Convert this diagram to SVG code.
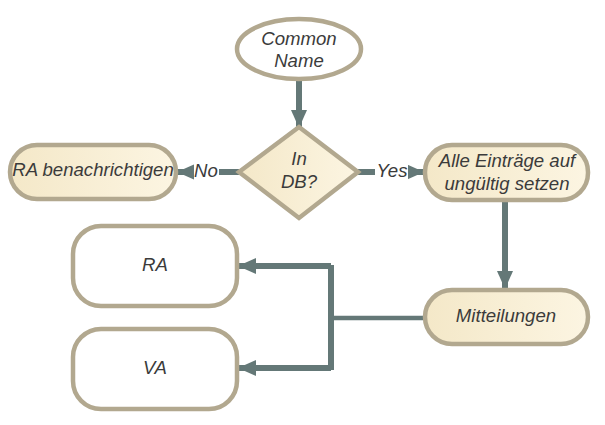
<svg xmlns="http://www.w3.org/2000/svg" width="605" height="425" viewBox="0 0 605 425">
<style>
.n{stroke:#b2a88f;stroke-width:4.5}
.f{fill:url(#g)}
.w{fill:#ffffff}
.t{font-family:"Liberation Sans",Arial,sans-serif;font-style:italic;font-size:18.6px;fill:#3b3b3b;text-anchor:middle}
.c{fill:none;stroke:#647877;stroke-width:6}
.lb{font-family:"Liberation Sans",Arial,sans-serif;font-style:italic;font-size:18.6px;fill:#3b3b3b;text-anchor:middle}
</style>
<defs>
<linearGradient id="g" x1="0" y1="0" x2="1" y2="0">
<stop offset="0" stop-color="#f4e8c8"/>
<stop offset="1" stop-color="#fcf5e2"/>
</linearGradient>
<marker id="a" markerUnits="userSpaceOnUse" markerWidth="18" markerHeight="16" refX="17" refY="8" orient="auto">
<path d="M0,0 L18,8 L0,16 z" fill="#647877"/>
</marker>
</defs>
<g id="connectors">
<path class="c" d="M299,79 V127" marker-end="url(#a)"/>
<path class="c" d="M239,172 H178" marker-end="url(#a)"/>
<path class="c" d="M358,172 H423" marker-end="url(#a)"/>
<path class="c" d="M505,201 V288" marker-end="url(#a)"/>
<path class="c" d="M423,318 H331" style="stroke-width:4.5"/>
<path class="c" d="M331,265 V370"/>
<path class="c" d="M331,266 H239" marker-end="url(#a)"/>
<path class="c" d="M331,368 H239" marker-end="url(#a)"/>
<rect x="194" y="160" width="25" height="24" fill="#ffffff"/>
<text class="lb" x="206" y="177">No</text>
<rect x="375" y="160" width="33" height="24" fill="#ffffff"/>
<text class="lb" x="392" y="177">Yes</text>
</g>
<g id="common-name">
<ellipse class="n w" cx="299" cy="49" rx="62" ry="30"/>
<text class="t" x="299" y="45">Common</text>
<text class="t" x="299" y="67">Name</text>
</g>
<g id="in-db">
<polygon class="n f" points="299,127 358,172 299,218 239,172"/>
<text class="t" x="299" y="165">In</text>
<text class="t" x="299" y="188">DB?</text>
</g>
<g id="ra-benachrichtigen">
<rect class="n f" x="10" y="145" width="166" height="54" rx="27"/>
<text class="t" x="93" y="176">RA benachrichtigen</text>
</g>
<g id="alle-eintraege">
<rect class="n f" x="425" y="145" width="163" height="55" rx="27"/>
<text class="t" x="507" y="167">Alle Einträge auf</text>
<text class="t" x="507" y="190">ungültig setzen</text>
</g>
<g id="mitteilungen">
<rect class="n f" x="425" y="290" width="163" height="54" rx="27"/>
<text class="t" x="506" y="322">Mitteilungen</text>
</g>
<g id="ra">
<rect class="n w" x="73" y="226" width="164" height="80" rx="28"/>
<text class="t" x="155" y="271">RA</text>
</g>
<g id="va">
<rect class="n w" x="73" y="329" width="164" height="80" rx="28"/>
<text class="t" x="155" y="374">VA</text>
</g>
</svg>
